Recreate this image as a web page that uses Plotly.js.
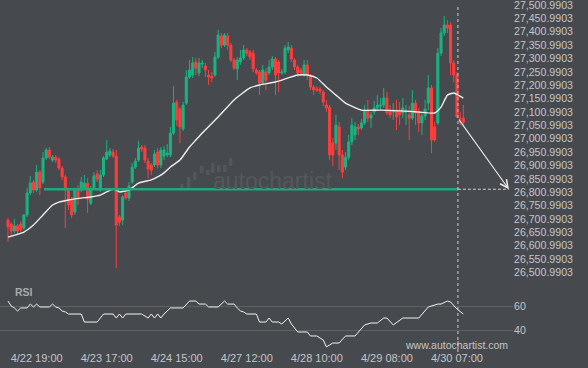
<!DOCTYPE html>
<html>
<head>
<meta charset="utf-8">
<script src="https://cdn.plot.ly/plotly-3.0.1.min.js"></script>
<style>
html,body{margin:0;padding:0;background:#46494e;overflow:hidden}
#chart{width:588px;height:368px}
</style>
</head>
<body>
<div id="chart"></div>
<script>
// ---- data ----
const tickIdx = [9, 31, 53, 75, 97, 119, 141];
const tickLabels = ['4/22 19:00', '4/23 17:00', '4/24 15:00', '4/27 12:00', '4/28 10:00', '4/29 08:00', '4/30 07:00'];

const open = [26697,26682,26656,26675,26682,26667,26716,26798,26839,26809,26876,26839,26929,26959,26921,26932,26925,26891,26858,26809,
26775,26727,26809,26809,26817,26835,26760,26817,26869,26809,26865,26925,26940,26951,26936,26708,26697,26798,26779,26839,
26895,26921,26970,26966,26917,26903,26903,26951,26903,26936,26940,26940,27022,27138,27112,27037,27134,27232,27239,27288,
27247,27280,27273,27239,27235,27239,27306,27385,27351,27385,27351,27295,27262,27288,27303,27333,27325,27321,27258,27250,
27209,27250,27247,27269,27299,27288,27247,27250,27333,27340,27295,27269,27258,27239,27277,27235,27194,27187,27187,27176,
27127,27119,26985,26985,27045,26940,26895,26932,26989,27015,27045,27041,27060,27108,27078,27101,27116,27123,27127,27153,
27108,27101,27108,27108,27097,27101,27090,27078,27134,27097,27060,27086,27134,27191,27045,27060,27321,27396,27426,27426,
27284,27239,27078,27078];
const high = [26704,26689,26701,26682,26693,26719,26817,26862,26847,26903,26884,26951,26966,26970,26940,26940,26932,26899,26865,26817,
26783,26817,26828,26858,26865,26854,26824,26876,26884,26884,26936,26996,26966,26962,26959,26716,26790,26809,26839,26910,
26929,26992,26977,26977,26929,26910,26959,26966,26970,26974,26981,27045,27198,27146,27119,27138,27258,27295,27306,27303,
27303,27295,27284,27258,27250,27325,27408,27396,27396,27396,27359,27303,27306,27333,27351,27340,27333,27333,27265,27258,
27277,27265,27295,27310,27306,27295,27262,27351,27363,27351,27303,27277,27265,27295,27295,27243,27202,27198,27194,27183,
27146,27127,27004,27090,27063,26959,26951,27015,27078,27063,27056,27075,27127,27146,27101,27142,27164,27153,27191,27176,
27127,27134,27146,27138,27153,27127,27123,27183,27146,27116,27101,27146,27239,27202,27063,27340,27415,27460,27445,27437,
27295,27250,27101,27127];
const low = [26615,26637,26648,26645,26652,26660,26708,26790,26798,26802,26790,26832,26921,26925,26914,26910,26884,26847,26667,26734,
26704,26716,26753,26802,26809,26723,26753,26809,26839,26802,26858,26921,26932,26929,26517,26675,26678,26772,26768,26832,
26888,26914,26951,26910,26854,26865,26895,26891,26891,26921,26932,26932,27015,27048,26985,27030,27127,27224,27228,27239,
27235,27265,27232,27202,27213,27232,27299,27340,27344,27333,27288,27258,27220,27277,27295,27310,27295,27250,27239,27164,
27202,27183,27239,27258,27164,27176,27239,27243,27321,27288,27258,27232,27235,27232,27220,27183,27164,27176,27168,27123,
27101,26921,26899,26959,26884,26854,26884,26921,26977,26996,27015,27034,27052,27063,27041,27090,27108,27108,27116,27090,
27078,27071,27034,27052,27078,27052,26996,27071,27052,27026,27015,27071,27108,26947,26989,27052,27310,27385,27396,27239,
27213,27078,27052,27052];
const close = [26671,26656,26675,26656,26660,26716,26798,26835,26809,26876,26817,26929,26959,26932,26932,26921,26891,26858,26809,26753,
26716,26809,26779,26839,26835,26775,26813,26862,26850,26865,26929,26951,26955,26936,26678,26689,26783,26779,26824,26895,
26917,26966,26962,26921,26888,26884,26944,26903,26959,26959,26947,27022,27134,27071,27045,27127,27232,27258,27284,27265,
27284,27284,27258,27232,27228,27306,27389,27351,27389,27351,27295,27265,27295,27303,27333,27321,27306,27262,27247,27209,
27258,27220,27269,27299,27239,27247,27250,27340,27344,27299,27269,27247,27247,27277,27239,27194,27183,27183,27179,27138,
27116,26940,26940,27052,26940,26876,26932,26989,27052,27045,27037,27060,27108,27078,27090,27116,27127,27127,27153,27097,
27090,27108,27082,27090,27116,27108,27078,27134,27097,27060,27086,27112,27191,26996,26996,27321,27396,27426,27415,27284,
27239,27082,27075,27063];

const maIdx = [0,5,8,11,14,16,19,23,26,29,31,33,34,35,38,41,45,47,49,51,54,57,59,61,66,71,76,79,84,91,94,97,100,103,106,111,117,123,129,134,136,138,140,142,143];
const maVal = [26633,26652,26678,26716,26753,26764,26772,26779,26783,26790,26802,26813,26809,26802,26809,26835,26847,26858,26873,26895,26921,26970,26996,27022,27082,27146,27191,27202,27213,27239,27239,27228,27194,27164,27134,27108,27108,27105,27101,27097,27119,27164,27172,27160,27153];

const rsiIdx = [0,1,2,3,4,6,7,8,9,10,13,14,15,16,17,18,19,23,24,28,30,33,34,35,36,37,42,44,45,46,47,48,49,51,55,56,57,59,60,62,63,66,67,68,69,71,72,73,74,75,78,79,81,82,83,85,86,88,89,91,94,95,97,99,100,102,104,106,109,112,114,116,118,119,121,124,129,132,135,136,138,139,141,142,143];
const rsiVal = [64.1,60,58.4,55.9,58.4,58.4,61.6,59.2,61.6,59.2,59.2,61.6,59.2,58.4,55.9,55.1,53.4,53.4,46.8,46.8,53.4,53.4,50.1,53.4,50.1,53.4,53.4,50.1,53.4,50.1,53.4,50.1,53.4,58.4,58.4,61.6,64.1,64.1,61.6,61.6,59.2,59.2,61.6,64.1,61.6,61.6,58.4,55.9,55.1,53.4,53.4,46.8,46.8,50.1,46.8,46.8,45.2,50.1,45.2,38.6,38.6,35.3,35.3,32.0,26.3,29.5,29.5,35.3,35.3,44.4,46.0,46.0,50.1,50.1,44.4,50.1,50.1,59.2,61.6,61.6,64.1,63.3,57.5,55.1,53.4];

const priceTicks = [26500.9903,26550.9903,26600.9903,26650.9903,26700.9903,26750.9903,26800.9903,26850.9903,26900.9903,26950.9903,
27000.9903,27050.9903,27100.9903,27150.9903,27200.9903,27250.9903,27300.9903,27350.9903,27400.9903,27450.9903,27500.9903];
const rsiTicks = [40, 60];

const levelPrice = 26812;
const levelStartIdx = 11.3;
const signalIdx = 141.3;
const signalPrice = 27078;
const targetIdx = 157.3;

// ---- styling ----
const BG = '#46494e';
const UP = '#19b482';
const DOWN = '#ff3d3d';
const TXT = '#c4c6c8';
const FONT = 'Liberation Sans, Arial, sans-serif';
const W = 588, H = 368, ML = 0, MR = 75, MT = 0, MB = 20;
const PW = W - ML - MR, PH = H - MT - MB;
const px = v => v / PW;            // decoration helpers (paper coords)
const py = v => (PH - v) / PH;

const xs = open.map((_, i) => i);

const traces = [
  {
    type: 'candlestick', x: xs, open: open, high: high, low: low, close: close,
    xaxis: 'x', yaxis: 'y',
    increasing: {line: {color: UP, width: 1}, fillcolor: UP},
    decreasing: {line: {color: DOWN, width: 1}, fillcolor: DOWN},
    whiskerwidth: 0, hoverinfo: 'skip', showlegend: false
  },
  {
    type: 'scatter', mode: 'lines', x: maIdx, y: maVal, xaxis: 'x', yaxis: 'y',
    line: {color: '#eeeeee', width: 1.4, shape: 'spline', smoothing: 0.5},
    hoverinfo: 'skip', showlegend: false
  },
  {
    type: 'scatter', mode: 'lines', x: rsiIdx, y: rsiVal, xaxis: 'x', yaxis: 'y2',
    line: {color: '#f2f2f2', width: 1},
    hoverinfo: 'skip', showlegend: false, cliponaxis: false
  }
];

const iconBars = [[180,184,189],[187,177,188],[193,172,180],[200,166,173],[206,170,175],[211,163,173],[217,165,172],[223,165,172],[229,158,166]];
const shapes = iconBars.map(b => ({
  type: 'rect', xref: 'paper', yref: 'paper', layer: 'below',
  x0: px(b[0]), x1: px(b[0] + 3.5), y0: py(b[2]), y1: py(b[1]),
  fillcolor: '#53575b', line: {width: 0}
}));
shapes.push(
  {type: 'line', xref: 'x', yref: 'y', x0: levelStartIdx, x1: signalIdx, y0: levelPrice, y1: levelPrice,
   line: {color: '#1fa87b', width: 2.5}, layer: 'above'},
  {type: 'line', xref: 'x', yref: 'y', x0: signalIdx, x1: targetIdx, y0: levelPrice, y1: levelPrice,
   line: {color: '#d2d2d2', width: 1, dash: '3px,2px'}, layer: 'above'},
  {type: 'line', xref: 'x', yref: 'paper', x0: signalIdx, x1: signalIdx, y0: py(352), y1: py(4),
   line: {color: '#cfcfcf', width: 1, dash: '3px,3px'}, layer: 'above'}
);

const annotations = [
  {xref: 'x', yref: 'y', x: targetIdx, y: levelPrice, axref: 'x', ayref: 'y', ax: signalIdx, ay: signalPrice,
   text: '', showarrow: true, arrowhead: 5, arrowsize: 1.4, arrowwidth: 1.1, arrowcolor: '#eeeeee', standoff: 0},
  {xref: 'paper', yref: 'paper', x: px(211), y: py(181), xanchor: 'left', yanchor: 'middle',
   text: 'autochartist', showarrow: false, font: {family: FONT, size: 23, color: '#54585c'}},
  {xref: 'paper', yref: 'paper', x: px(13), y: py(291.5), xanchor: 'left', yanchor: 'middle',
   text: '<b>RSI</b>', showarrow: false, font: {family: FONT, size: 10.5, color: '#a8abae'}},
  {xref: 'paper', yref: 'paper', x: px(403), y: py(345), xanchor: 'left', yanchor: 'middle',
   text: 'www.autochartist.com', showarrow: false, font: {family: FONT, size: 10.5, color: '#c6c6c6'}}
];

const layout = {
  width: W, height: H,
  margin: {l: ML, r: MR, t: MT, b: MB, pad: 0},
  paper_bgcolor: BG, plot_bgcolor: BG,
  showlegend: false, dragmode: false, hovermode: false,
  boxgap: 0.2, boxgroupgap: 0.2,
  xaxis: {
    domain: [0, 1], range: [-2.51, 158.6], anchor: 'y2',
    tickmode: 'array', tickvals: tickIdx, ticktext: tickLabels,
    showgrid: false, zeroline: false, showline: false, ticks: '',
    ticklabelstandoff: 2,
    tickfont: {family: FONT, size: 11, color: TXT},
    rangeslider: {visible: false}, fixedrange: true
  },
  yaxis: {
    domain: [0.1954, 1], range: [26472.6, 27519.7], side: 'right', anchor: 'x',
    tickmode: 'array', tickvals: priceTicks, tickformat: ',.4f',
    showgrid: false, zeroline: false, showline: false, ticks: '',
    ticklabeloverflow: 'allow',
    tickfont: {family: FONT, size: 10.6, color: TXT}, fixedrange: true
  },
  yaxis2: {
    domain: [0, 0.181], range: [25.4, 77.3], side: 'right', anchor: 'x',
    tickmode: 'array', tickvals: rsiTicks,
    showgrid: true, gridcolor: '#5d6161', gridwidth: 1,
    zeroline: false, showline: false, ticks: '',
    tickfont: {family: FONT, size: 10.6, color: TXT}, fixedrange: true
  },
  shapes: shapes,
  annotations: annotations
};

Plotly.newPlot('chart', traces, layout, {staticPlot: true, displayModeBar: false});
</script>
</body>
</html>
